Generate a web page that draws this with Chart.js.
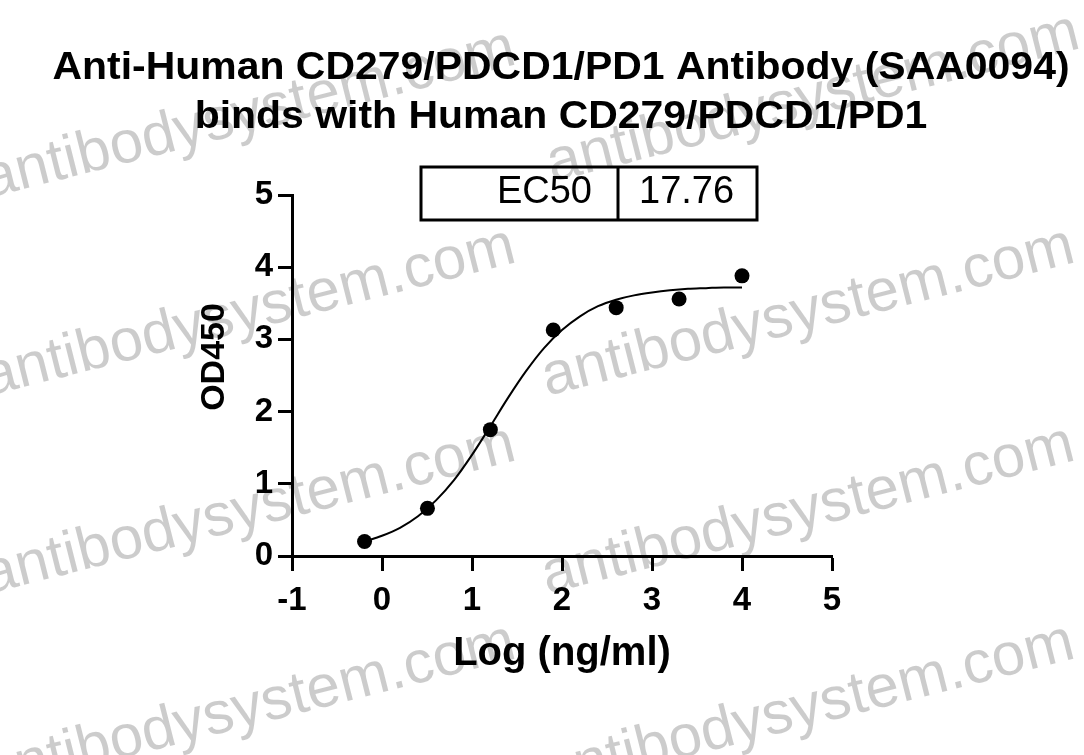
<!DOCTYPE html>
<html>
<head>
<meta charset="utf-8">
<script src="https://cdn.jsdelivr.net/npm/chart.js@4.4.1/dist/chart.umd.min.js"></script>
<style>
  html, body { margin: 0; padding: 0; background: #fff; }
  #chart { display: block; }
</style>
</head>
<body>
<canvas id="chart" width="1084" height="755"></canvas>
<script>
// measured points: log10 concentration (ng/ml) vs OD450
const logConc = [-0.194, 0.505, 1.204, 1.903, 2.602, 3.301, 4.0];
const od450 = [0.20, 0.66, 1.75, 3.13, 3.44, 3.56, 3.88];

// fitted curve
const curveX = [-0.194, 0.0, 0.2, 0.4, 0.6, 0.8, 1.0, 1.2, 1.4, 1.6, 1.8, 2.0, 2.2, 2.4, 2.6, 2.8, 3.0, 3.2, 3.4, 3.6, 3.8, 4.0];
const curveY = [0.20, 0.28, 0.39, 0.55, 0.77, 1.05, 1.40, 1.79, 2.19, 2.56, 2.88, 3.13, 3.32, 3.46, 3.55, 3.61, 3.65, 3.68, 3.70, 3.71, 3.72, 3.72];

const xTicks = [-1, 0, 1, 2, 3, 4, 5];
const yTicks = [0, 1, 2, 3, 4, 5];

const titleLines = ['Anti-Human CD279/PDCD1/PD1 Antibody (SAA0094)', 'binds with Human CD279/PDCD1/PD1'];
const xTitle = 'Log (ng/ml)';
const yTitle = 'OD450';
const ec50Row = ['EC50', '17.76'];

const watermarkText = 'antibodysystem.com';
const watermarkStarts = [
  [-12, 198], [552, 182],
  [-12, 396], [547, 396],
  [-12, 594], [547, 594],
  [-12, 792], [547, 792]
];

const FONT = '"Liberation Sans", Arial, sans-serif';

const watermarkPlugin = {
  id: 'watermark',
  beforeDraw(chart) {
    const ctx = chart.ctx;
    ctx.save();
    ctx.fillStyle = 'rgba(0,0,0,0.2)';
    ctx.font = `60px ${FONT}`;
    ctx.textBaseline = 'alphabetic';
    watermarkStarts.forEach(([x, y]) => {
      ctx.save();
      ctx.translate(x, y);
      ctx.rotate(-14.2 * Math.PI / 180);
      ctx.fillText(watermarkText, 0, 0);
      ctx.restore();
    });
    ctx.restore();
  }
};

// two-line heading (slightly wide like the original export) and the y label
const headingPlugin = {
  id: 'heading',
  afterDraw(chart) {
    const ctx = chart.ctx;
    ctx.save();
    ctx.fillStyle = '#000';
    ctx.font = `bold 39px ${FONT}`;
    ctx.textAlign = 'center';
    ctx.textBaseline = 'alphabetic';
    const baselines = [79, 128];
    titleLines.forEach((line, i) => {
      ctx.save();
      ctx.translate(561, baselines[i]);
      ctx.scale(1.05, 1);
      ctx.fillText(line, 0, 0);
      ctx.restore();
    });

    ctx.font = `bold 34px ${FONT}`;
    ctx.textBaseline = 'middle';
    ctx.translate(215, 357);
    ctx.rotate(-Math.PI / 2);
    ctx.fillText(yTitle, 0, 0);
    ctx.restore();
  }
};

const ec50Plugin = {
  id: 'ec50Table',
  afterDraw(chart) {
    const ctx = chart.ctx;
    const area = chart.chartArea;
    const left = area.left + 129;
    const top = area.top - 28;
    const w = 336, h = 53, split = 197;
    ctx.save();
    ctx.strokeStyle = '#000';
    ctx.lineWidth = 3;
    ctx.strokeRect(left, top, w, h);
    ctx.beginPath();
    ctx.moveTo(left + split, top);
    ctx.lineTo(left + split, top + h);
    ctx.stroke();
    ctx.fillStyle = '#000';
    ctx.font = `38px ${FONT}`;
    ctx.textBaseline = 'middle';
    ctx.textAlign = 'right';
    ctx.fillText(ec50Row[0], left + split - 26, top + h / 2 - 1);
    ctx.textAlign = 'left';
    ctx.fillText(ec50Row[1], left + split + 21, top + h / 2 - 1);
    ctx.restore();
  }
};

new Chart(document.getElementById('chart'), {
  type: 'scatter',
  data: {
    datasets: [
      {
        label: 'fit',
        data: curveX.map((x, i) => ({ x, y: curveY[i] })),
        showLine: true,
        borderColor: '#000',
        borderWidth: 2,
        pointRadius: 0,
        cubicInterpolationMode: 'monotone',
        fill: false
      },
      {
        label: 'OD450',
        data: logConc.map((x, i) => ({ x, y: od450[i] })),
        showLine: false,
        pointRadius: 7.5,
        pointBackgroundColor: '#000',
        pointBorderColor: '#000',
        pointBorderWidth: 0
      }
    ]
  },
  options: {
    responsive: false,
    animation: false,
    layout: { padding: { left: 0, right: 252, top: 195, bottom: 0 } },
    plugins: {
      legend: { display: false },
      tooltip: { enabled: false },
      title: { display: false }
    },
    scales: {
      x: {
        type: 'linear',
        min: xTicks[0],
        max: xTicks[xTicks.length - 1],
        afterBuildTicks: (scale) => { scale.ticks = xTicks.map((v) => ({ value: v })); },
        afterFit: (scale) => { scale.height = 199; },
        ticks: { color: '#000', font: { family: FONT, size: 33, weight: 'bold' }, padding: 10, maxRotation: 0 },
        grid: { drawOnChartArea: false, tickLength: 15, tickWidth: 3, tickColor: '#000' },
        border: { color: '#000', width: 3 },
        title: {
          display: true,
          text: xTitle,
          color: '#000',
          font: { family: FONT, size: 40, weight: 'bold' },
          padding: { top: 0, bottom: 77 }
        }
      },
      y: {
        type: 'linear',
        min: yTicks[0],
        max: yTicks[yTicks.length - 1],
        afterBuildTicks: (scale) => { scale.ticks = yTicks.map((v) => ({ value: v })); },
        afterFit: (scale) => { scale.width = 292; },
        ticks: { color: '#000', font: { family: FONT, size: 33, weight: 'bold' }, padding: 5 },
        grid: { drawOnChartArea: false, tickLength: 14, tickWidth: 3, tickColor: '#000' },
        border: { color: '#000', width: 3 },
        title: { display: false }
      }
    }
  },
  plugins: [watermarkPlugin, headingPlugin, ec50Plugin]
});
</script>
</body>
</html>
